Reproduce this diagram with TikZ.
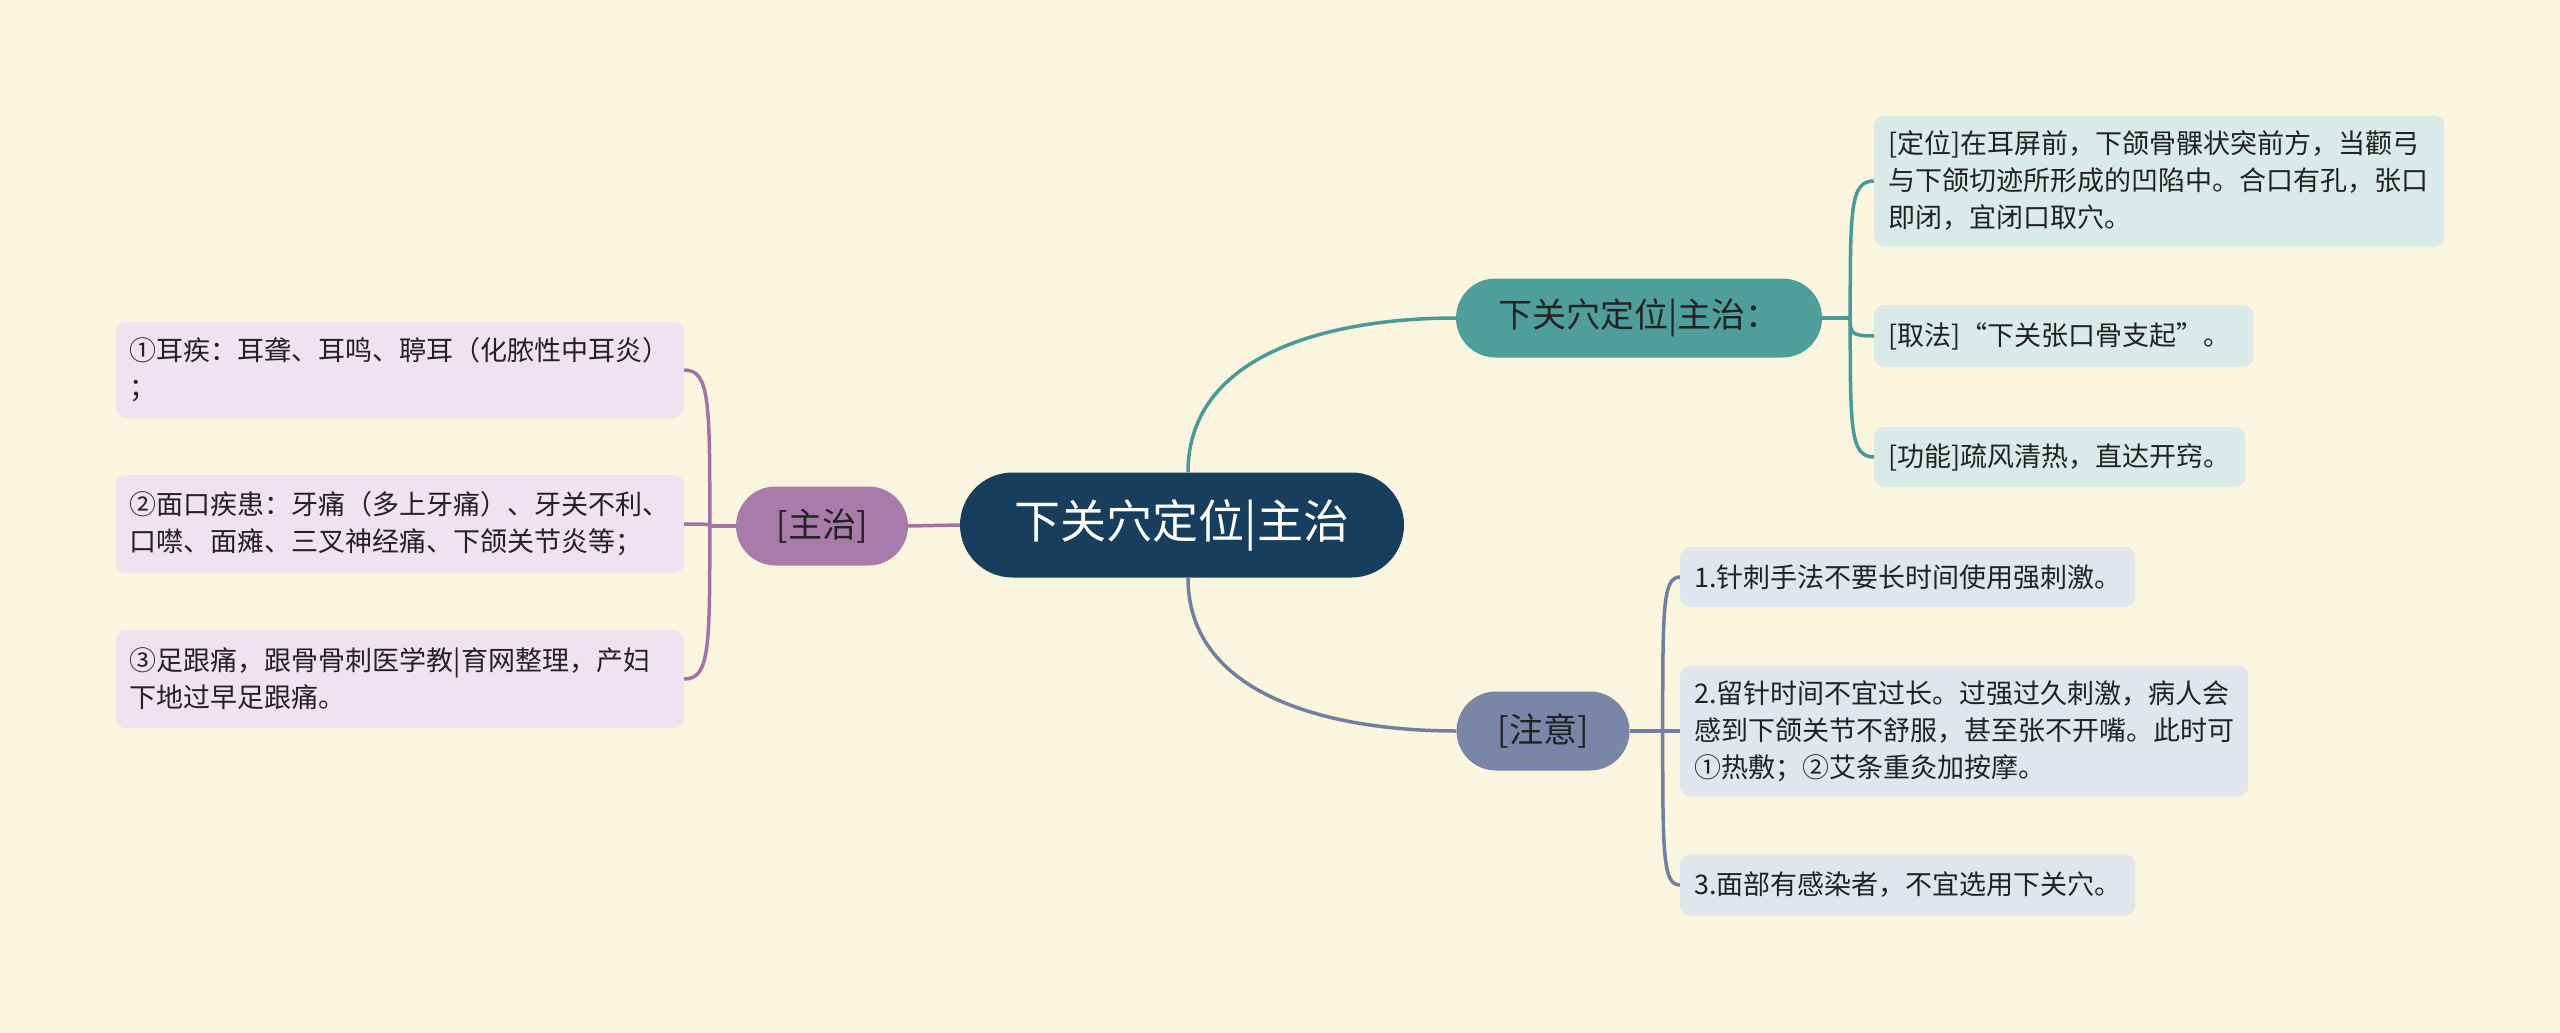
\documentclass[tikz,border=0pt]{standalone}
\usepackage{fontspec}
\setmainfont{Noto Sans CJK SC}
\usetikzlibrary{shapes.misc, calc, positioning}
\definecolor{bgcream}{HTML}{FAF5DF}
\definecolor{rootblue}{HTML}{173E5C}
\definecolor{purplemain}{HTML}{A87BAA}
\definecolor{purpleleaf}{HTML}{EEE3EF}
\definecolor{purpleline}{HTML}{A274A4}
\definecolor{tealmain}{HTML}{4E9E9C}
\definecolor{tealleaf}{HTML}{DAEAE8}
\definecolor{tealline}{HTML}{4A9A97}
\definecolor{slatemain}{HTML}{7A86A8}
\definecolor{slateleaf}{HTML}{E1E5EC}
\definecolor{slateline}{HTML}{737FA0}
\definecolor{inkdark}{HTML}{222222}

\begin{document}
\begin{tikzpicture}[x=1pt, y=-1pt,
    rootnode/.style={rounded rectangle, fill=rootblue, text=white, minimum width=444pt,
                     minimum height=105pt, inner sep=0pt, font=\fontsize{46}{50}\selectfont},
    topic/.style={rounded rectangle, minimum height=79pt, inner sep=0pt, text=inkdark,
                  font=\fontsize{34}{38}\selectfont},
    leaf/.style={rounded corners=10pt, inner xsep=14pt, inner ysep=4pt, align=left,
                 text=inkdark, font=\fontsize{27}{37}\selectfont},
    link/.style={line width=3.5pt},
    brace/.style={to path={.. controls ($(\tikztostart)!0.8!(\tikztostart|-\tikztotarget)$)
                  and (\tikztostart|-\tikztotarget) .. (\tikztotarget)}}
]
    \fill[bgcream] (0,0) rectangle (2560,1033);
    \useasboundingbox (0,0) rectangle (2560,1033);

    % centre and main topics
    \node[rootnode] (root) at (1182,525) {下关穴定位|主治};
    \node[topic, fill=purplemain, minimum width=172pt] (zhizhi) at (822,526) {[主治]};
    \node[topic, fill=tealmain, minimum width=366pt] (dingwei) at (1639,318) {下关穴定位|主治：};
    \node[topic, fill=slatemain, minimum width=173pt] (zhuyi) at (1543,731) {[注意]};

    % left leaves
    \node[leaf, fill=purpleleaf, text width=540pt, minimum height=96pt, anchor=east] (sym1) at (684,370)
        {①耳疾：耳聋、耳鸣、聤耳（化脓性中耳炎）\\；};
    \node[leaf, fill=purpleleaf, text width=540pt, minimum height=98pt, anchor=east] (sym2) at (684,524)
        {②面口疾患：牙痛（多上牙痛）、牙关不利、\\口噤、面瘫、三叉神经痛、下颌关节炎等；};
    \node[leaf, fill=purpleleaf, text width=540pt, minimum height=98pt, anchor=east] (sym3) at (684,679)
        {③足跟痛，跟骨骨刺医学教|育网整理，产妇\\下地过早足跟痛。};

    % upper right leaves
    \node[leaf, fill=tealleaf, text width=542pt, minimum height=131pt, anchor=west] (pos1) at (1874,181)
        {[定位]在耳屏前，下颌骨髁状突前方，当颧弓\\与下颌切迹所形成的凹陷中。合口有孔，张口\\即闭，宜闭口取穴。};
    \node[leaf, fill=tealleaf, text width=351pt, minimum height=62pt, anchor=west] (pos2) at (1874,336)
        {[取法]“下关张口骨支起”。};
    \node[leaf, fill=tealleaf, text width=343pt, minimum height=60pt, anchor=west] (pos3) at (1874,457)
        {[功能]疏风清热，直达开窍。};

    % lower right leaves
    \node[leaf, fill=slateleaf, text width=427pt, minimum height=60pt, anchor=west] (note1) at (1680,577)
        {1.针刺手法不要长时间使用强刺激。};
    \node[leaf, fill=slateleaf, text width=540pt, minimum height=131pt, anchor=west] (note2) at (1680,731)
        {2.留针时间不宜过长。过强过久刺激，病人会\\感到下颌关节不舒服，甚至张不开嘴。此时可\\①热敷；②艾条重灸加按摩。};
    \node[leaf, fill=slateleaf, text width=427pt, minimum height=61pt, anchor=west] (note3) at (1680,885)
        {3.面部有感染者，不宜选用下关穴。};

    % junctions
    \coordinate (jL) at ([xshift=-26pt]zhizhi.west);
    \coordinate (jT) at ([xshift=28pt]dingwei.east);
    \coordinate (jZ) at ([xshift=33pt]zhuyi.east);

    % connectors
    \draw[link, purpleline] (root.west) -- (zhizhi.east);
    \draw[link, tealline] ([xshift=6pt]root.north) to[out=90, in=180] (dingwei.west);
    \draw[link, slateline] ([xshift=6pt]root.south) to[out=-90, in=180] (zhuyi.west);

    \draw[link, purpleline] (zhizhi.west) -- (jL);
    \foreach \leafname in {sym1, sym2, sym3}
        \draw[link, purpleline] (jL) to[brace] (\leafname.east);
    \draw[link, tealline] (dingwei.east) -- (jT);
    \foreach \leafname in {pos1, pos2, pos3}
        \draw[link, tealline] (jT) to[brace] (\leafname.west);
    \draw[link, slateline] (zhuyi.east) -- (jZ);
    \foreach \leafname in {note1, note2, note3}
        \draw[link, slateline] (jZ) to[brace] (\leafname.west);
\end{tikzpicture}
\end{document}
